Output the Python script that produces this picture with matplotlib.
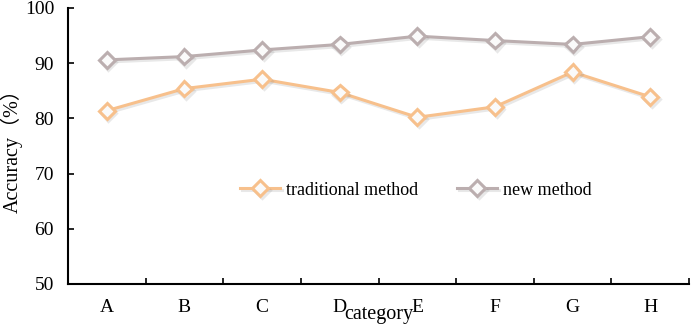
import matplotlib
matplotlib.use("Agg")
import matplotlib.pyplot as plt
import matplotlib.patheffects as pe
import numpy as np

categories = ["A", "B", "C", "D", "E", "F", "G", "H"]
traditional = [81.4, 85.4, 87.1, 84.7, 80.2, 82.1, 88.4, 83.9]
new_method = [90.6, 91.2, 92.4, 93.4, 94.9, 94.1, 93.4, 94.8]

plt.rcParams['font.family'] = ['Liberation Serif', 'Noto Sans CJK SC']

fig = plt.figure(figsize=(6.92, 3.29), dpi=100)
ax = fig.add_axes([68 / 692, 1 - 284 / 329, 621 / 692, 276 / 329])

x = np.arange(len(categories))
shadow = [pe.SimpleLineShadow(offset=(1.2, -1.5), shadow_color="gray", alpha=0.18), pe.Normal()]

ax.plot(x, traditional, color="#F7C08C", lw=2.2, marker="D", markersize=8,
        markerfacecolor="#FAFAFA", markeredgecolor="#F7C08C", markeredgewidth=2.2,
        label="traditional method", path_effects=shadow)
ax.plot(x, new_method, color="#BBAEAF", lw=2.2, marker="D", markersize=8,
        markerfacecolor="#FAFAFA", markeredgecolor="#BBAEAF", markeredgewidth=2.2,
        label="new method", path_effects=shadow)

ax.set_xlim(-0.5, len(categories) - 0.5)
ax.set_ylim(50, 100)
ax.set_yticks([50, 60, 70, 80, 90, 100])
ax.set_xticks(x)
ax.set_xticklabels(categories)
ax.set_xticks(np.arange(-0.5, len(categories)), minor=True)
ax.tick_params(axis="x", which="major", length=0, pad=11, labelsize=14)
ax.tick_params(axis="x", which="minor", direction="in", length=4, width=1.2)
ax.tick_params(axis="y", direction="in", length=4, width=1.2, labelsize=14, pad=10)

for side in ["top", "right"]:
    ax.spines[side].set_visible(False)
for side in ["left", "bottom"]:
    ax.spines[side].set_linewidth(1.5)

ax.set_xlabel("category", fontsize=14.5, labelpad=-8)
ax.set_ylabel("Accuracy（%）", fontsize=14.5)
ax.yaxis.set_label_coords(-0.072, 0.5)

ax.legend(loc="center", bbox_to_anchor=(0.56, 0.34), ncol=2, frameon=False,
          fontsize=13, handlelength=2.2, columnspacing=2.2, handletextpad=0.3)

fig.savefig("out.png", dpi=100)
